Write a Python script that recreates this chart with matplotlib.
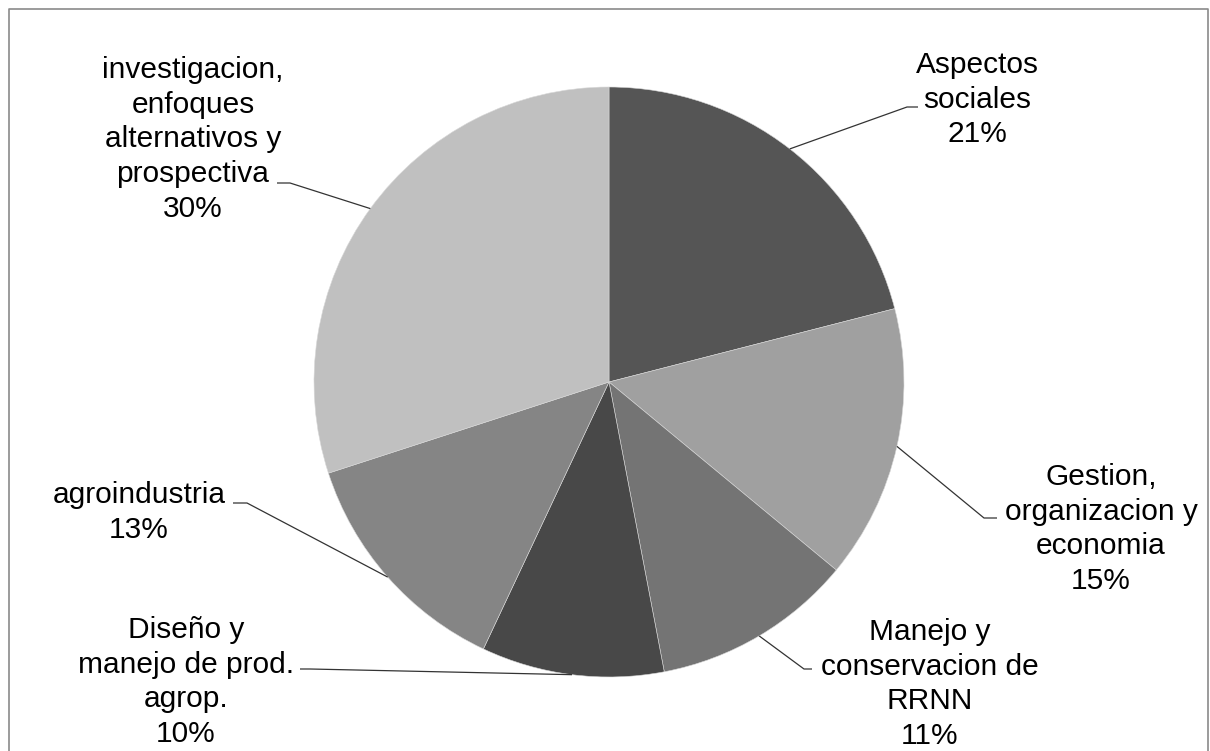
import numpy as np
import matplotlib
matplotlib.use("Agg")
import matplotlib.pyplot as plt

# ---- data ----
categories = [
    "Aspectos\nsociales",
    "Gestion,\norganizacion y\neconomia",
    "Manejo y\nconservacion de\nRRNN",
    "Diseño y\nmanejo de prod.\nagrop.",
    "agroindustria",
    "investigacion,\nenfoques\nalternativos y\nprospectiva",
]
values = [21, 15, 11, 10, 13, 30]
colors = ["#555555", "#a0a0a0", "#747474", "#484848", "#858585", "#c0c0c0"]

# ---- layout (pixel coordinates, y measured from top) ----
W, H = 1210, 751
cx, cy, R = 609, 382, 295
# label anchor: (center x, first baseline y)
label_pos = [(977, 73), (1101, 485), (930, 640), (186, 638), (139, 503), (193, 78)]
# leader line: elbow point and end point
leader_pts = [
    [(907, 107), (918, 107)],
    [(984, 518), (997, 518)],
    [(804, 669), (812, 669)],
    [(310, 669), (300, 669)],
    [(247, 503), (233, 503)],
    [(290, 183), (277, 183)],
]
line_h = 34.7

fig = plt.figure(figsize=(W / 100, H / 100), dpi=100)
ax = fig.add_axes([0, 0, 1, 1])

def Y(y):
    return H - y

ax.pie(values, colors=colors, startangle=90, counterclock=False,
       center=(cx, Y(cy)), radius=R,
       wedgeprops=dict(linewidth=0.4, edgecolor="#d8d8d8"))
ax.set_xlim(0, W)
ax.set_ylim(0, H)
ax.set_aspect("equal")
ax.axis("off")

total = sum(values)
cum = 0
for i, v in enumerate(values):
    mid = 90 - (cum + v / 2) / total * 360
    cum += v
    sx = cx + R * np.cos(np.radians(mid))
    sy = cy - R * np.sin(np.radians(mid))
    pts = [(sx, sy)] + leader_pts[i]
    ax.plot([p[0] for p in pts], [Y(p[1]) for p in pts], color="#333333",
            lw=0.9, solid_capstyle="butt")
    pct = f"{round(v / total * 100)}%"
    lines = categories[i].split("\n") + [pct]
    lx, ly = label_pos[i]
    for k, t in enumerate(lines):
        ax.text(lx, Y(ly + k * line_h), t, ha="center", va="baseline",
                fontsize=21.5, family="Liberation Sans", color="#000000")

# outer frame
ax.plot([9, 9, 1208, 1208], [Y(760), Y(9), Y(9), Y(760)], color="#8a8a8a",
        lw=1.2, clip_on=False)

fig.savefig("out.png", dpi=100)
